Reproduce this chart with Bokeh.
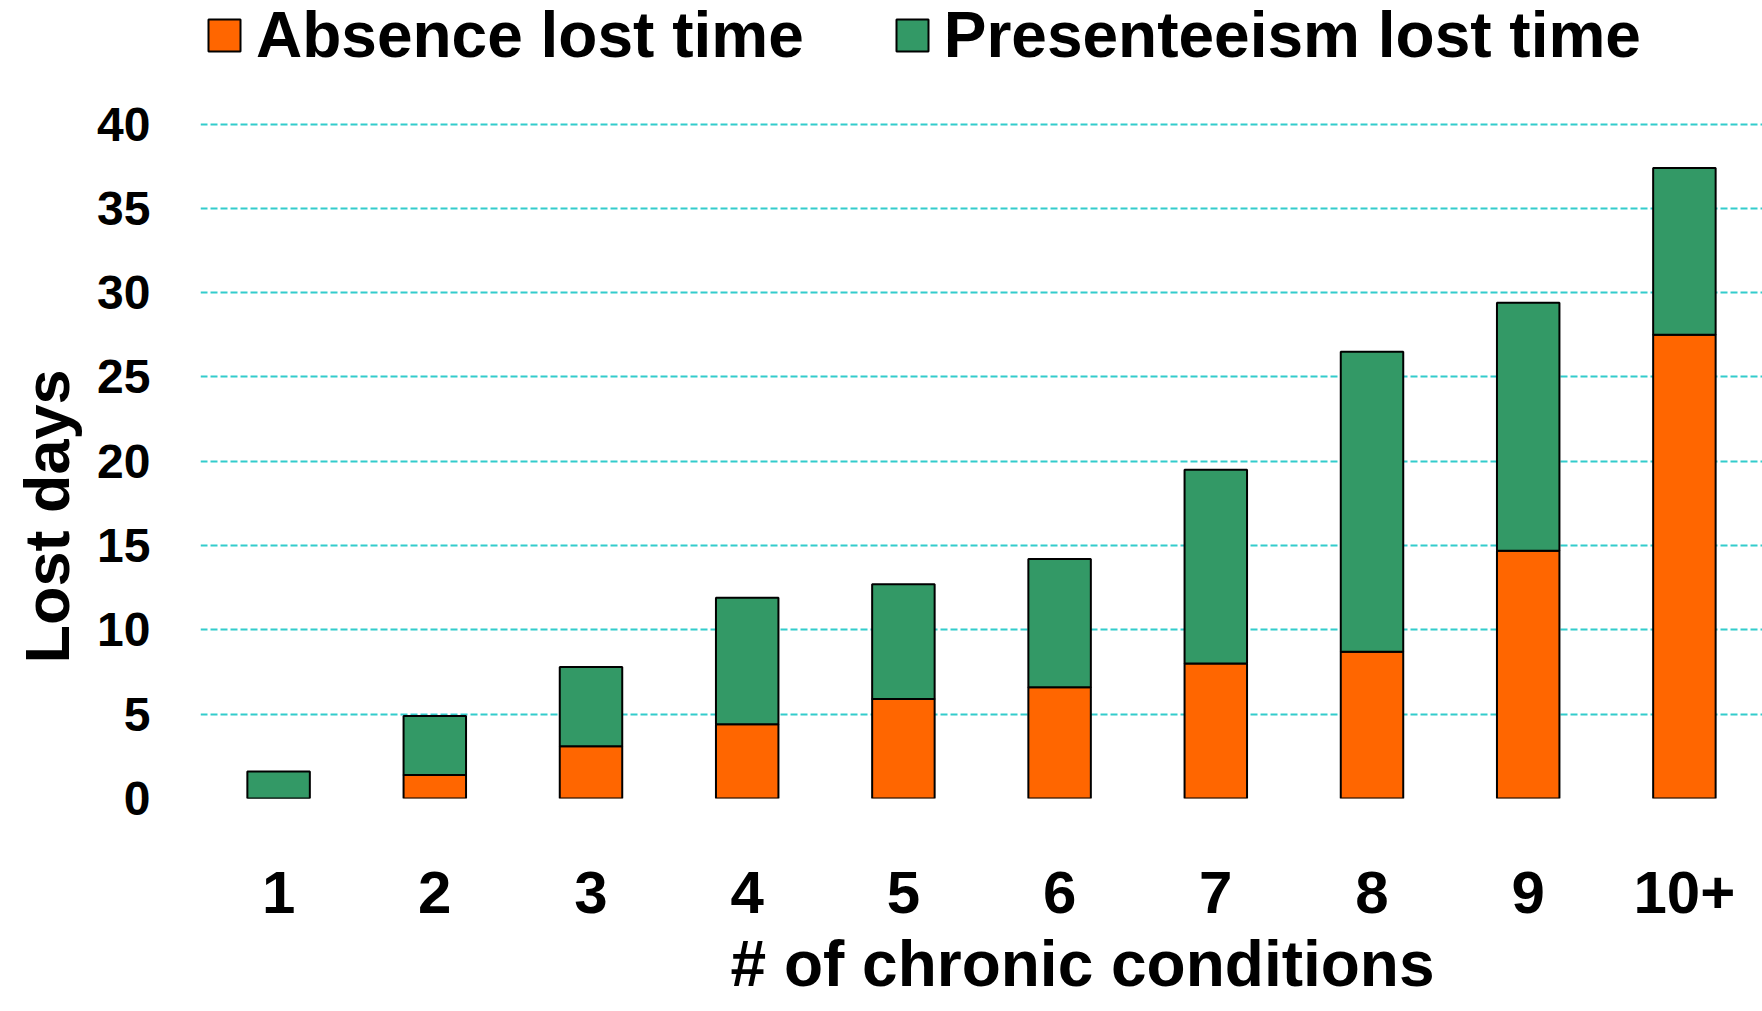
from bokeh.plotting import figure
from bokeh.models import ColumnDataSource, FactorRange, Range1d, FixedTicker, Legend, LegendItem, Title
from bokeh.embed import file_html
from bokeh.resources import INLINE

# Lost days by number of chronic conditions
conditions = ["1", "2", "3", "4", "5", "6", "7", "8", "9", "10+"]
absence = [0.0, 1.4, 3.1, 4.4, 5.9, 6.6, 8.0, 8.7, 14.7, 27.5]
presenteeism = [1.6, 3.5, 4.7, 7.5, 6.8, 7.6, 11.5, 17.8, 14.7, 9.9]
y_ticks = [0, 5, 10, 15, 20, 25, 30, 35, 40]

series = ["absence", "presenteeism"]
series_labels = ["Absence lost time", "Presenteeism lost time"]
colors = ["#FF6600", "#339966"]

source = ColumnDataSource(dict(conditions=conditions, absence=absence, presenteeism=presenteeism))

FONT = "Liberation Sans"

# the plot frame reaches the top edge so the legend can sit inside it, above the 40 line
p = figure(
    width=1762, height=1011,
    x_range=FactorRange(*conditions, range_padding=0),
    y_range=Range1d(0, 47.33),
    output_backend="svg", toolbar_location=None,
    min_border_left=200, min_border_right=0, min_border_top=0, min_border_bottom=213,
    outline_line_color=None,
)

renderers = p.vbar_stack(series, x="conditions", width=0.4, source=source,
                         fill_color=colors, line_color="black", line_width=2)

p.xgrid.grid_line_color = None
p.ygrid.ticker = FixedTicker(ticks=y_ticks[1:])
p.ygrid.grid_line_color = "#33CCCC"
p.ygrid.grid_line_width = 2
p.ygrid.grid_line_dash = "7 3"

p.yaxis.ticker = FixedTicker(ticks=y_ticks)
p.yaxis.axis_line_color = None
p.yaxis.major_tick_line_color = None
p.yaxis.minor_tick_line_color = None
p.yaxis.major_tick_out = 0
p.yaxis.major_label_standoff = 50
p.yaxis.major_label_text_font = FONT
p.yaxis.major_label_text_font_style = "bold"
p.yaxis.major_label_text_font_size = "48px"
p.yaxis.major_label_text_color = "black"

p.xaxis.axis_line_color = None
p.xaxis.major_tick_line_color = None
p.xaxis.minor_tick_line_color = None
p.xaxis.major_tick_out = 0
p.xaxis.major_label_standoff = 73
p.xaxis.major_label_text_font = FONT
p.xaxis.major_label_text_font_style = "bold"
p.xaxis.major_label_text_font_size = "60px"
p.xaxis.major_label_text_color = "black"

x_title = Title(text="# of chronic conditions", align="left", offset=530, standoff=20,
                text_font=FONT, text_font_style="bold", text_font_size="64px", text_color="black")
p.add_layout(x_title, "below")
y_title = Title(text="Lost days", align="left", offset=135, standoff=22, vertical_align="top",
                text_font=FONT, text_font_style="bold", text_font_size="63px", text_color="black")
p.add_layout(y_title, "left")

legend = Legend(
    items=[LegendItem(label=lbl, renderers=[r]) for lbl, r in zip(series_labels, renderers)],
    orientation="horizontal",
    location=(4, 726),
    padding=0, margin=0, spacing=88,
    glyph_width=40, glyph_height=40, label_standoff=12,
    label_text_font=FONT, label_text_font_style="bold", label_text_font_size="64px",
    label_text_color="black",
    border_line_color=None, background_fill_alpha=0,
)
p.add_layout(legend, "center")

open("out.html", "w").write(file_html(p, INLINE))
